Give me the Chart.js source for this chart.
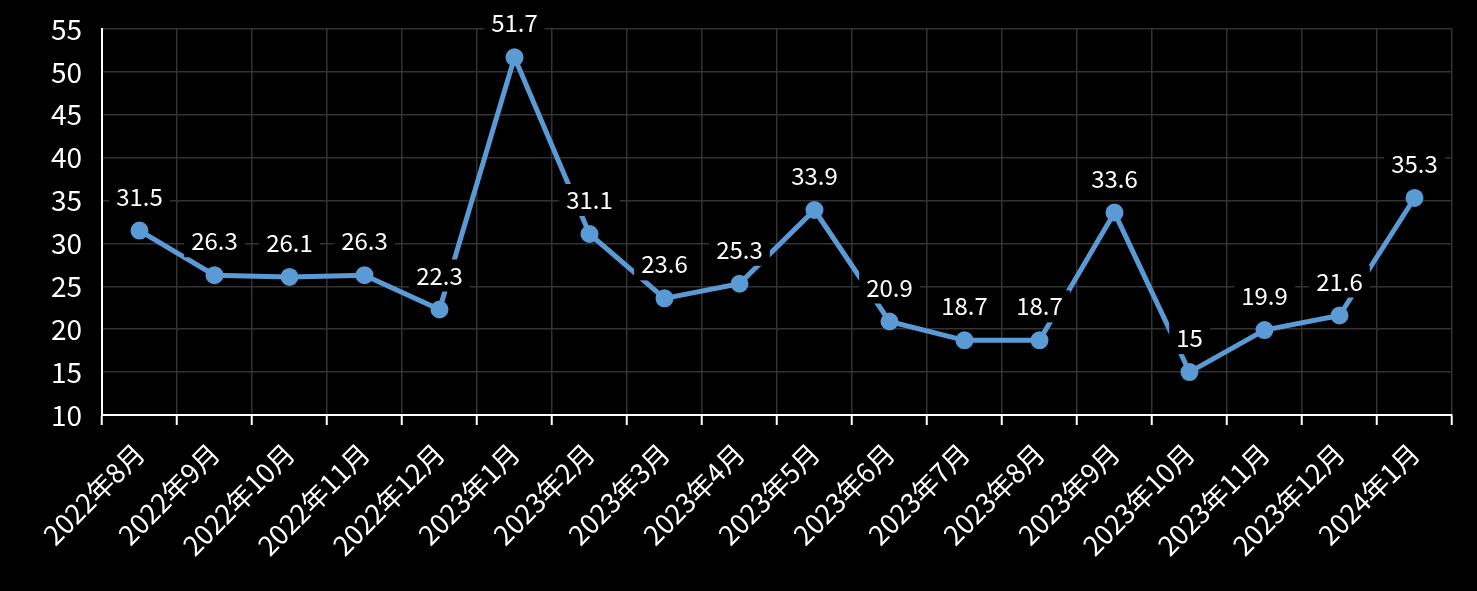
<!DOCTYPE html>
<html>
<head>
<meta charset="utf-8">
<script src="https://cdn.jsdelivr.net/npm/chart.js@4"></script>
<style>
  html, body { margin: 0; padding: 0; background: #000; }
  #wrap { width: 1477px; height: 591px; }
</style>
</head>
<body>
<div id="wrap"><canvas id="chart"></canvas></div>
<script>
const months = [
  '2022年8月', '2022年9月', '2022年10月', '2022年11月', '2022年12月',
  '2023年1月', '2023年2月', '2023年3月', '2023年4月', '2023年5月',
  '2023年6月', '2023年7月', '2023年8月', '2023年9月', '2023年10月',
  '2023年11月', '2023年12月', '2024年1月'
];
const values = [31.5, 26.3, 26.1, 26.3, 22.3, 51.7, 31.1, 23.6, 25.3, 33.9,
  20.9, 18.7, 18.7, 33.6, 15, 19.9, 21.6, 35.3];
const yMin = 10;
const yMax = 55;
const yStep = 5;

const fontFamily = '"Noto Sans CJK SC", "Noto Sans", sans-serif';

// value labels above each point, on a black box that cuts the line
const pointLabels = {
  id: 'pointLabels',
  afterDatasetsDraw(chart) {
    const ctx = chart.ctx;
    const meta = chart.getDatasetMeta(0);
    ctx.save();
    ctx.font = '24px ' + fontFamily;
    ctx.textAlign = 'center';
    ctx.textBaseline = 'middle';
    meta.data.forEach((pt, i) => {
      const txt = String(values[i]);
      const w = ctx.measureText(txt).width;
      const cy = pt.y - 34;
      ctx.fillStyle = '#000';
      ctx.fillRect(pt.x - w / 2 - 7, cy - 16, w + 14, 32);
      ctx.fillStyle = '#fff';
      ctx.fillText(txt, pt.x, cy);
    });
    ctx.restore();
  }
};

new Chart(document.getElementById('chart'), {
  type: 'line',
  data: {
    labels: months,
    datasets: [{
      data: values,
      borderColor: '#5b9bd5',
      backgroundColor: '#5b9bd5',
      borderWidth: 5,
      pointRadius: 6.5,
      pointHoverRadius: 6.5,
      tension: 0
    }]
  },
  options: {
    responsive: true,
    maintainAspectRatio: false,
    animation: false,
    layout: { padding: { top: 29, right: 25, left: 0, bottom: 0 } },
    plugins: {
      legend: { display: false },
      tooltip: { enabled: false }
    },
    scales: {
      x: {
        offset: true,
        grid: {
          offset: true,
          color: '#333',
          tickColor: '#fff',
          tickLength: 10,
          lineWidth: 1.5,
          tickWidth: 2
        },
        border: { color: '#fff', width: 2 },
        ticks: {
          color: '#fff',
          font: { family: fontFamily, size: 27 },
          maxRotation: 45,
          minRotation: 45,
          autoSkip: false,
          padding: 12
        },
        afterFit(scale) {
          scale.height = 176;
          scale.paddingLeft = 0;
          scale.paddingRight = 0;
        }
      },
      y: {
        min: yMin,
        max: yMax,
        grid: { color: '#333', lineWidth: 1.5, drawTicks: false },
        border: { color: '#fff', width: 2 },
        ticks: {
          stepSize: yStep,
          color: '#fff',
          font: { family: fontFamily, size: 28 },
          padding: 20
        },
        afterFit(scale) {
          scale.width = 102;
          scale.paddingTop = 0;
          scale.paddingBottom = 0;
        }
      }
    }
  },
  plugins: [pointLabels]
});
</script>
</body>
</html>
